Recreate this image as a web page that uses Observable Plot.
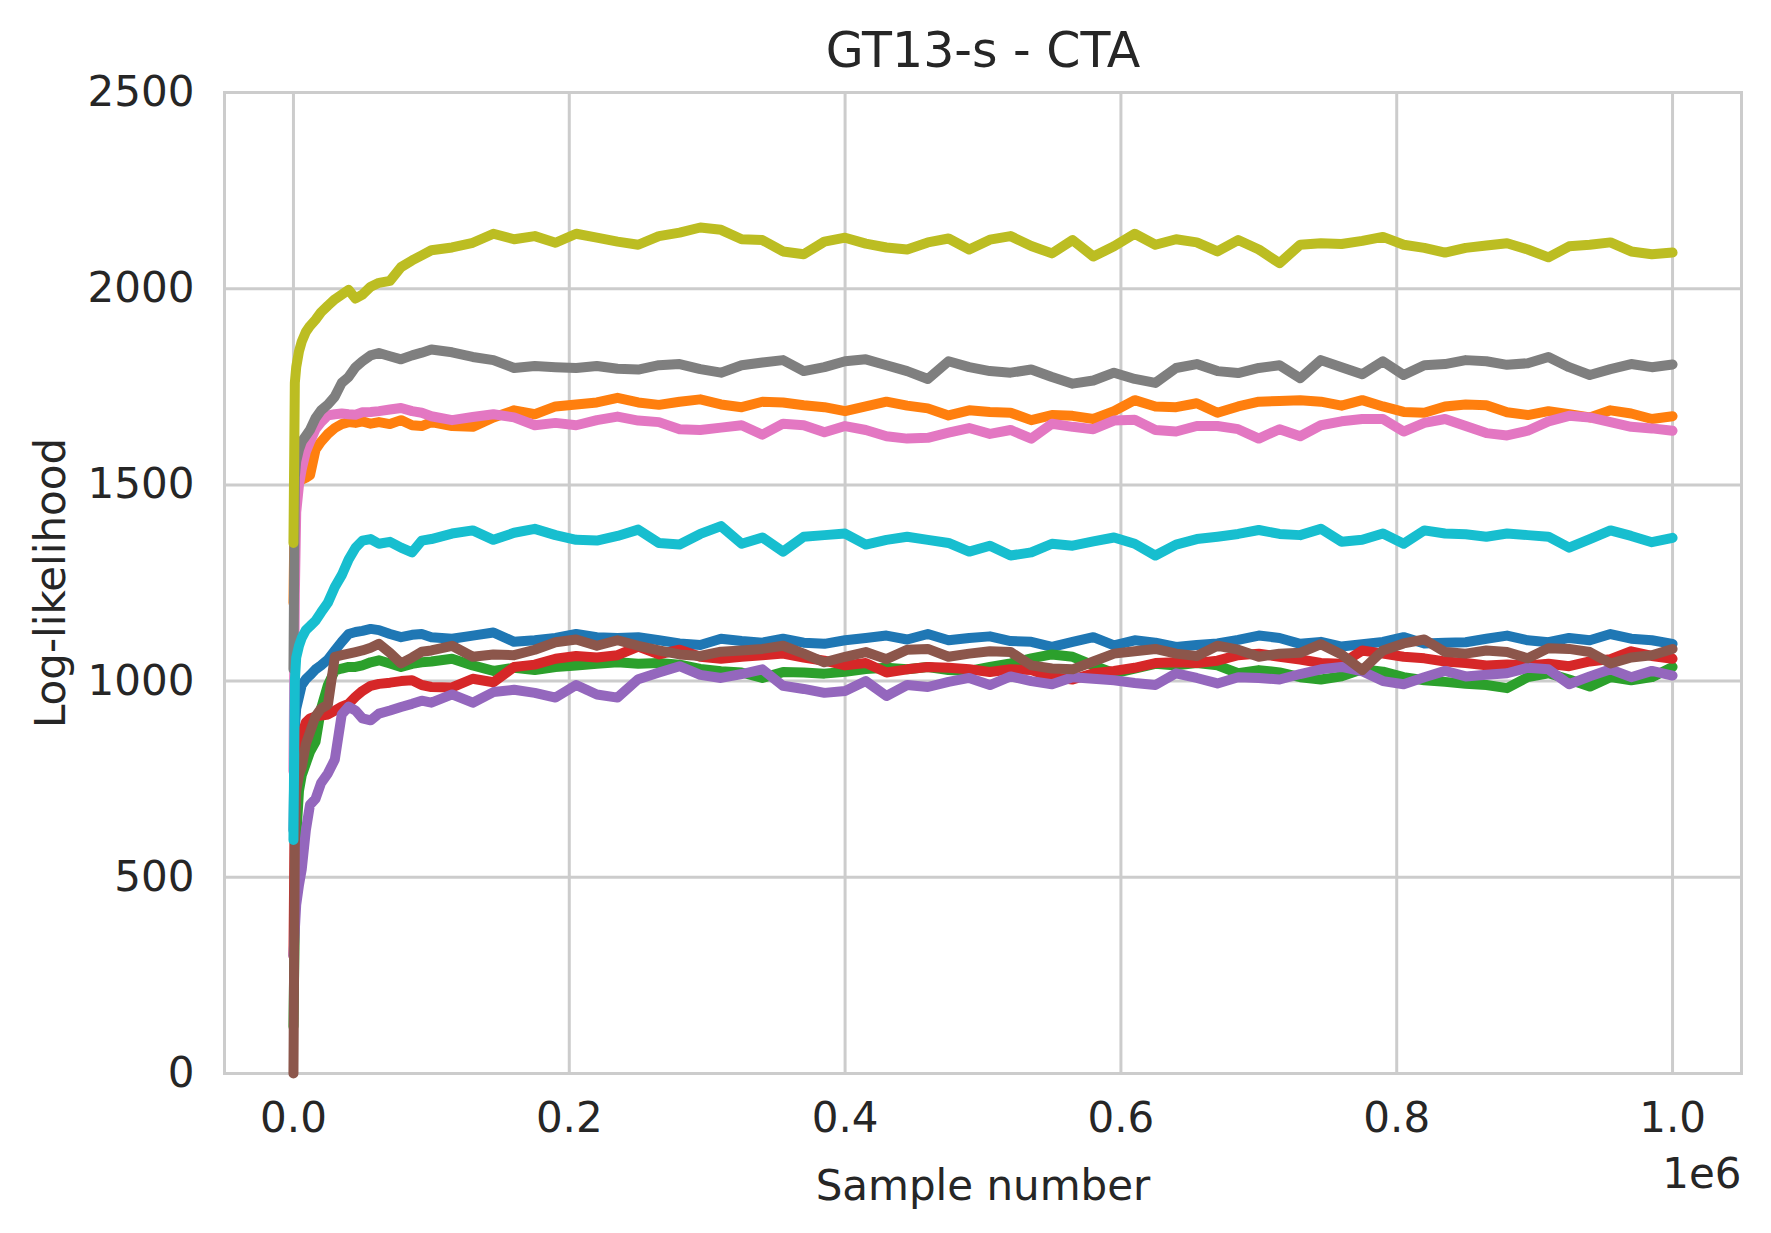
<!DOCTYPE html>
<html>
<head>
<meta charset="utf-8">
<script src="https://cdn.jsdelivr.net/npm/d3@7"></script>
<script src="https://cdn.jsdelivr.net/npm/@observablehq/plot@0.6"></script>
<style>
  html, body { margin: 0; padding: 0; background: #ffffff; }
</style>
</head>
<body>
<div id="chart"></div>
<script>
// Sample number, in thousands
const samplesK = [0,1,2,4,6,9,12,16,20,25,30,35,40,45,50,56,62,70,78,86,93,100,
  115,130,145,160,175,190,205,220,235,250,
  265,280,295,310,325,340,355,370,385,400,
  415,430,445,460,475,490,505,520,535,550,
  565,580,595,610,625,640,655,670,685,700,
  715,730,745,760,775,790,805,820,835,850,
  865,880,895,910,925,940,955,970,985,1000];

const blue = [620,880,930,960,990,1005,1015,1030,1040,1055,1078,1100,1120,1125,1128,1133,1130,1120,1112,1118,1120,1112,
  1108,1116,1124,1100,1104,1110,1120,1112,1110,1112,
  1104,1096,1092,1108,1102,1098,1108,1098,1095,1104,
  1110,1116,1106,1120,1104,1110,1114,1102,1100,1087,
  1100,1112,1091,1104,1098,1087,1092,1096,1105,1116,
  1110,1095,1100,1088,1094,1100,1112,1096,1098,1099,
  1108,1116,1104,1099,1110,1104,1120,1108,1104,1095];

const orange = [1200,1480,1505,1510,1513,1518,1525,1590,1610,1630,1645,1655,1660,1658,1662,1656,1660,1655,1665,1652,1650,1660,
  1650,1648,1672,1690,1680,1700,1705,1710,1722,1710,
  1704,1712,1718,1705,1698,1712,1710,1703,1698,1688,
  1700,1712,1702,1695,1677,1690,1686,1684,1665,1678,
  1676,1668,1688,1716,1700,1698,1708,1684,1700,1712,
  1714,1716,1712,1702,1716,1700,1686,1684,1700,1705,
  1703,1685,1678,1688,1680,1672,1690,1682,1668,1675];

const green = [120,400,600,720,760,790,820,845,930,990,1027,1032,1036,1036,1040,1048,1053,1045,1036,1044,1048,1050,
  1057,1040,1026,1034,1028,1036,1040,1044,1048,1044,
  1046,1042,1031,1025,1022,1008,1023,1022,1019,1024,
  1031,1034,1030,1036,1028,1026,1036,1045,1058,1068,
  1062,1040,1020,1032,1044,1040,1046,1040,1020,1028,
  1022,1010,1004,1012,1030,1024,1010,1002,998,993,
  990,982,1010,1020,1004,986,1010,1002,1010,1036];

const red = [300,700,781,830,860,895,905,910,912,915,925,935,942,960,975,988,993,996,1000,1002,990,985,
  984,1006,997,1036,1042,1057,1064,1060,1066,1088,
  1068,1080,1062,1057,1062,1066,1070,1060,1052,1040,
  1046,1022,1030,1036,1034,1030,1023,1030,1028,1010,
  1004,1020,1026,1034,1046,1048,1046,1052,1066,1070,
  1062,1055,1046,1044,1078,1070,1062,1058,1050,1046,
  1040,1042,1040,1044,1038,1050,1056,1076,1064,1057];

const purple = [300,366,430,480,520,620,685,700,740,765,800,915,935,925,905,900,917,925,934,942,950,945,
  966,945,972,978,970,958,990,966,958,1005,
  1022,1038,1016,1008,1018,1030,988,980,970,975,
  1000,962,990,985,998,1008,990,1012,1000,992,
  1010,1006,1002,995,990,1020,1008,994,1010,1008,
  1004,1018,1030,1036,1025,1000,992,1010,1026,1012,
  1016,1020,1034,1030,992,1012,1030,1010,1026,1014];

const brown = [0,600,720,760,781,840,870,910,930,940,1062,1066,1070,1074,1078,1085,1095,1072,1045,1060,1075,1078,
  1090,1062,1068,1066,1080,1099,1106,1090,1104,1090,
  1078,1068,1064,1075,1078,1082,1090,1070,1048,1062,
  1074,1056,1080,1082,1062,1070,1076,1074,1040,1032,
  1030,1050,1070,1076,1082,1070,1064,1090,1080,1062,
  1070,1072,1094,1068,1028,1078,1096,1106,1074,1070,
  1078,1074,1058,1084,1082,1074,1045,1060,1066,1082];

const pink = [770,1220,1430,1500,1540,1584,1610,1642,1660,1677,1680,1682,1680,1679,1685,1686,1688,1692,1696,1688,1684,1675,
  1665,1673,1680,1672,1652,1658,1652,1665,1674,1664,
  1660,1642,1640,1646,1652,1628,1656,1652,1634,1650,
  1640,1624,1618,1620,1633,1645,1630,1640,1618,1656,
  1648,1642,1664,1666,1640,1636,1650,1650,1642,1618,
  1642,1624,1652,1662,1668,1668,1636,1658,1668,1650,
  1632,1626,1638,1662,1676,1672,1660,1648,1644,1638];

const gray = [1030,1520,1560,1590,1610,1625,1640,1670,1690,1705,1725,1760,1775,1800,1815,1830,1836,1828,1820,1830,1837,1845,
  1838,1826,1818,1798,1803,1800,1798,1803,1796,1794,
  1805,1808,1795,1786,1805,1812,1818,1790,1800,1815,
  1820,1805,1790,1770,1815,1800,1790,1786,1794,1775,
  1758,1766,1786,1770,1760,1798,1808,1790,1785,1798,
  1805,1772,1818,1800,1782,1815,1780,1805,1808,1818,
  1815,1806,1810,1826,1800,1780,1795,1808,1800,1807];

const olive = [1352,1760,1800,1840,1865,1890,1905,1921,1940,1957,1973,1985,1997,1975,1985,2005,2015,2020,2055,2072,2085,2098,
  2105,2117,2140,2126,2134,2117,2140,2130,2120,2112,
  2134,2143,2156,2150,2126,2124,2095,2088,2120,2130,
  2115,2105,2100,2118,2128,2100,2125,2134,2109,2090,
  2124,2082,2108,2140,2112,2126,2118,2095,2124,2100,
  2065,2112,2116,2114,2122,2132,2112,2104,2092,2104,
  2110,2116,2100,2080,2108,2112,2118,2095,2088,2092];

const cyan = [595,1000,1060,1090,1110,1130,1140,1154,1175,1200,1240,1270,1310,1340,1358,1362,1350,1355,1340,1328,1358,1362,
  1376,1384,1360,1378,1388,1372,1360,1358,1370,1386,
  1352,1348,1375,1395,1350,1366,1330,1368,1372,1376,
  1348,1360,1368,1360,1352,1330,1345,1320,1328,1350,
  1345,1356,1366,1350,1320,1348,1362,1368,1375,1385,
  1375,1372,1388,1355,1360,1376,1350,1384,1376,1374,
  1368,1376,1372,1368,1340,1362,1384,1370,1354,1365];

const seriesNames = ["C0","C1","C2","C3","C4","C5","C6","C7","C8","C9"];
const seriesValues = [blue, orange, green, red, purple, brown, pink, gray, olive, cyan];
const seriesColors = ["#1f77b4","#ff7f0e","#2ca02c","#d62728","#9467bd","#8c564b","#e377c2","#7f7f7f","#bcbd22","#17becf"];

const xTicks = [0, 200000, 400000, 600000, 800000, 1000000];
const yTicks = [0, 500, 1000, 1500, 2000, 2500];
const titleText = "GT13-s - CTA";
const xLabel = "Sample number";
const yLabel = "Log-likelihood";
const offsetText = "1e6";

const data = [];
seriesNames.forEach((name, i) => {
  seriesValues[i].forEach((v, j) => {
    data.push({series: name, x: samplesK[j] * 1000, y: v});
  });
});

const grid = "#cccccc";
const ink = "#262626";

const chart = Plot.plot({
  width: 1771,
  height: 1233,
  marginLeft: 224,
  marginRight: 30,
  marginTop: 92,
  marginBottom: 160,
  style: {fontFamily: "DejaVu Sans", fontSize: "42px", color: ink, background: "#ffffff"},
  x: {domain: [-50000, 1050000], ticks: xTicks},
  y: {domain: [0, 2500], ticks: yTicks},
  color: {domain: seriesNames, range: seriesColors},
  marks: [
    Plot.gridX(xTicks, {stroke: grid, strokeOpacity: 1, strokeWidth: 3}),
    Plot.gridY(yTicks, {stroke: grid, strokeOpacity: 1, strokeWidth: 3}),
    Plot.frame({stroke: grid, strokeWidth: 3}),
    Plot.axisX(xTicks, {tickSize: 0, tickPadding: 29, tickFormat: d => (d / 1e6).toFixed(1), label: null, fontSize: 42, fill: ink}),
    Plot.axisY(yTicks, {tickSize: 0, tickPadding: 30, tickFormat: d => String(d), label: null, fontSize: 42, fill: ink}),
    Plot.line(data, {x: "x", y: "y", z: "series", stroke: "series", strokeWidth: 10, strokeLinejoin: "round", strokeLinecap: "round"}),
    Plot.text([titleText], {frameAnchor: "top", dy: -41, text: d => d, fontSize: 49, fill: ink, lineAnchor: "middle"}),
    Plot.text([xLabel], {frameAnchor: "bottom", dy: 113, text: d => d, fontSize: 42, fill: ink, lineAnchor: "middle"}),
    Plot.text([yLabel], {frameAnchor: "left", dx: -173, rotate: -90, textAnchor: "middle", text: d => d, fontSize: 42, fill: ink, lineAnchor: "middle"}),
    Plot.text([offsetText], {frameAnchor: "bottom-right", dy: 101, textAnchor: "end", text: d => d, fontSize: 42, fill: ink, lineAnchor: "middle"})
  ]
});

document.getElementById("chart").appendChild(chart);
</script>
</body>
</html>
